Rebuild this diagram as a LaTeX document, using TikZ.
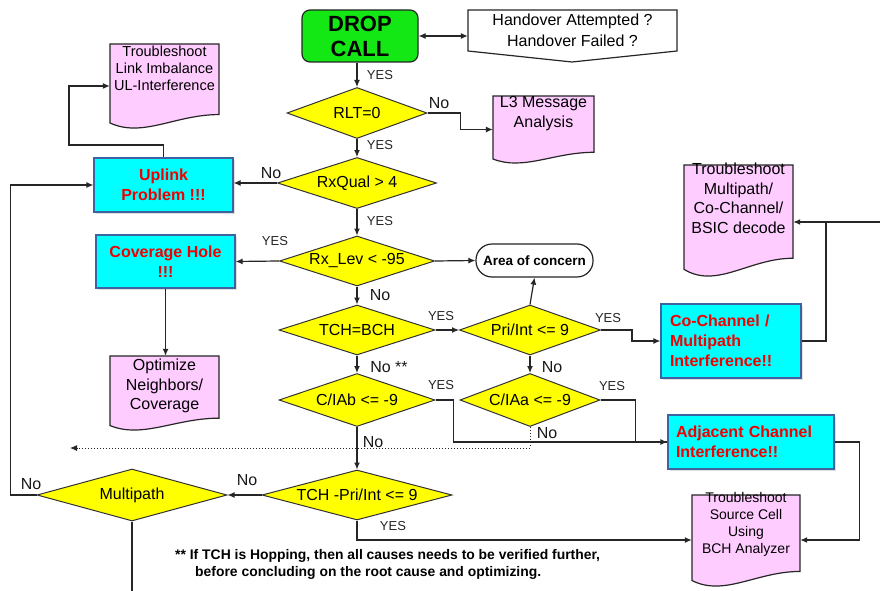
\documentclass[tikz,border=0pt]{standalone}
\usepackage{fontspec}
\setmainfont{Liberation Sans}
\usetikzlibrary{shapes.geometric,arrows.meta,shadows,calc}
\definecolor{dgreen}{RGB}{20,232,20}
\definecolor{dcyan}{RGB}{0,255,255}
\definecolor{dpink}{RGB}{255,204,255}
\definecolor{dyellow}{RGB}{255,255,0}
\definecolor{dred}{RGB}{240,0,0}
\definecolor{cborder}{RGB}{60,100,160}
\newcommand\docpath[4]{(#1,#2) -- (#3,#2) -- (#3,{#4-0.16*(#4-#2)}) .. controls ({#1+0.6*(#3-#1)},{#4-0.16*(#4-#2)}) and ({#1+0.3*(#3-#1)},{#4+0.12*(#4-#2)}) .. (#1,{#4-0.06*(#4-#2)}) -- cycle}
\begin{document}
\begin{tikzpicture}[x=1pt,y=-1pt,
  line/.style={draw=black!85, line width=1.2pt},
  arr/.style={line, -{Latex[length=7pt,width=6pt]}},
  dblarr/.style={line, {Latex[length=7pt,width=6pt]}-{Latex[length=7pt,width=6pt]}},
  diam/.style={diamond, shape aspect=4, draw=black!80, line width=1pt, fill=dyellow, inner sep=0pt, font=\fontsize{16}{19}\selectfont},
  startbox/.style={rectangle, rounded corners=8pt, draw=black!85, line width=1.2pt, fill=dgreen, font=\bfseries\fontsize{22}{25}\selectfont, align=center},
  probbox/.style={rectangle, draw=cborder, line width=1.2pt, fill=dcyan, text=dred, font=\bfseries\fontsize{16}{20}\selectfont, align=center, drop shadow={opacity=0.25, shadow xshift=2pt, shadow yshift=-2pt}},
  docout/.style={draw=black!85, line width=1.2pt, fill=dpink},
  docarea/.style={rectangle, draw=none, inner sep=0pt},
  doctext/.style={anchor=north, align=center, inner sep=0pt},
  termbox/.style={rectangle, rounded corners=16pt, draw=black!85, line width=1.2pt, fill=white, font=\bfseries\fontsize{13.5}{16}\selectfont},
  yeslbl/.style={inner sep=0pt, text=black!85, font=\fontsize{13}{15}\selectfont},
  nolbl/.style={inner sep=0pt, text=black!90, font=\fontsize{16}{18}\selectfont},
  fnote/.style={anchor=west, inner sep=0pt, font=\bfseries\fontsize{13.9}{16}\selectfont}
]
\useasboundingbox[fill=white] (0,0) rectangle (880,591);

% ---- background shapes (documents, off-page)
\path[docout] \docpath{110}{44}{219}{128};
\path[docout] \docpath{493}{96}{594}{163};
\path[docout] \docpath{110}{356}{219}{430};
\path[docout] \docpath{684}{165}{793}{276};
\path[docout] \docpath{692}{495}{800}{586};
\path[draw=black!85, line width=1.2pt, fill=white] (468,10) -- (677,10) -- (677,51) -- (572,62) -- (468,51) -- cycle;

% ---- nodes
\node[startbox, minimum width=116pt, minimum height=52pt] (drop) at (360,36) {DROP\\CALL};
\node[rectangle, inner sep=0pt, minimum width=209pt, minimum height=41pt, align=center, font=\fontsize{16}{20.5}\selectfont] (ho) at (572.5,30.5) {Handover Attempted ?\\Handover Failed ?};

\node[diam, minimum width=140pt, minimum height=51pt] (rlt) at (357,113) {RLT=0};
\node[diam, minimum width=159pt, minimum height=51pt] (rxq) at (357,183) {RxQual > 4};
\node[diam, minimum width=155pt, minimum height=50pt] (rxl) at (357,261) {Rx\_Lev < -95};
\node[diam, minimum width=156pt, minimum height=50pt] (tch) at (357,330) {TCH=BCH};
\node[diam, minimum width=141pt, minimum height=50pt] (pri) at (530,330) {Pri/Int <= 9};
\node[diam, minimum width=156pt, minimum height=53pt] (ciab) at (357,400) {C/IAb <= -9};
\node[diam, minimum width=140pt, minimum height=53pt] (ciaa) at (530,400) {C/IAa <= -9};
\node[diam, minimum width=190pt, minimum height=50pt] (tpi) at (357,495) {TCH -Pri/Int <= 9};
\node[diam, minimum width=190pt, minimum height=52pt] (mp) at (132,495) {Multipath};

\node[probbox, minimum width=139pt, minimum height=54pt] (up) at (163.5,185) {Uplink\\Problem !!!};
\node[probbox, minimum width=139pt, minimum height=53pt] (cov) at (165.5,261.5) {Coverage Hole\\!!!};
\node[probbox, minimum width=140pt, minimum height=74pt, text width=122pt, inner xsep=9pt, align=left] (cc) at (731,341) {Co-Channel /\\Multipath\\Interference!!};
\node[probbox, minimum width=166pt, minimum height=54pt, text width=150pt, inner xsep=8pt, align=left] (adj) at (751,442) {Adjacent Channel\\Interference!!};

\node[termbox, minimum width=117pt, minimum height=33pt] (aoc) at (534.5,260.5) {Area of concern};

% document areas and texts
\node[docarea, minimum width=109pt, minimum height=84pt] (tli) at (164.5,86) {};
\node[doctext, font=\fontsize{14.5}{17}\selectfont] (tlit) at (164.5,46) {Troubleshoot\\Link Imbalance\\UL-Interference};
\node[docarea, minimum width=101pt, minimum height=67pt] (l3) at (543.5,129.5) {};
\node[doctext, font=\fontsize{16}{20}\selectfont] (l3t) at (543.5,96) {L3 Message\\Analysis};
\node[docarea, minimum width=109pt, minimum height=74pt] (opt) at (164.5,393) {};
\node[doctext, font=\fontsize{16}{19.5}\selectfont] (optt) at (164.5,359) {Optimize\\Neighbors/\\Coverage};
\node[docarea, minimum width=109pt, minimum height=110pt] (tmp) at (738.5,220) {};
\node[doctext, font=\fontsize{16}{19.5}\selectfont] (tmpt) at (738.5,163) {Troubleshoot\\Multipath/\\Co-Channel/\\BSIC decode};
\node[docarea, minimum width=108pt, minimum height=90pt] (src) at (746,540) {};
\node[doctext, font=\fontsize{14}{17}\selectfont] (srct) at (746,492) {Troubleshoot\\Source Cell\\Using\\BCH Analyzer};

% ---- coordinates
\coordinate (c1) at (69,145);
\coordinate (jr) at (826,222);
\coordinate (redge) at (880,222);
\coordinate (dl) at (70,448);
\coordinate (bot) at (132,591);

% ---- connectors
\draw[dblarr] (drop.east) -- (ho.west |- drop.east);
\draw[arr] (drop.south -| rlt.north) -- (rlt.north);
\draw[arr] (rlt.east) -- ++(33,0) |- (l3.west);
\draw[arr] (rlt.south) -- (rxq.north);
\draw[arr] (rxq.west) -- (up.east |- rxq.west);
\draw[arr] (up.north) |- (c1) |- (tli.west);
\draw[arr] (rxq.south) -- (rxl.north);
\draw[arr] (rxl.west) -- (cov.east);
\draw[arr] (cov.south) -- (cov.south |- opt.north);
\draw[arr] (rxl.east) -- (aoc.west);
\draw[arr] (rxl.south) -- (tch.north);
\draw[arr] (tch.east) -- (pri.west);
\draw[arr] (pri.north) -- (aoc.south);
\draw[arr] (pri.east) -- ++(31,0) |- (cc.west);
\draw[line] (cc.east) -| (jr);
\draw[arr] (redge) -- (tmp.east |- redge);
\draw[arr] (tch.south) -- (ciab.north);
\draw[arr] (pri.south) -- (ciaa.north);
\draw[arr] (ciab.east) -- ++(18,0) |- (adj.west);
\draw[line] (ciaa.east) -- ++(35,0) |- (adj.west);
\draw[black!85, line width=1pt, dotted, -{Latex[length=7pt,width=6pt]}] (ciaa.south) |- (dl);
\draw[arr] (ciab.south) -- (tpi.north);
\draw[arr] (tpi.west) -- (mp.east);
\draw[arr] (mp.west) -- ++(-26,0) |- (up.west);
\draw[line] (mp.south) -- (bot);
\draw[arr] (tpi.south) |- (src.west);
\draw[arr] (adj.east) -- ++(25,0) |- (src.east);

% ---- labels
\node[yeslbl] (y1) at (380,75) {YES};
\node[nolbl] (n1) at (439,103) {No};
\node[yeslbl] (y2) at (380,145) {YES};
\node[nolbl] (n2) at (271,173) {No};
\node[yeslbl] (y3) at (380,221) {YES};
\node[yeslbl] (y4) at (275,241) {YES};
\node[nolbl] (n3) at (380,295) {No};
\node[yeslbl] (y5) at (441,316) {YES};
\node[yeslbl] (y6) at (608,318) {YES};
\node[nolbl] (n4) at (389,367) {No **};
\node[nolbl] (n5) at (552,367) {No};
\node[yeslbl] (y7) at (441,385) {YES};
\node[yeslbl] (y8) at (612,386) {YES};
\node[nolbl] (n6) at (547,433) {No};
\node[nolbl] (n7) at (373,442) {No};
\node[nolbl] (n8) at (247,480) {No};
\node[nolbl] (n9) at (31,484) {No};
\node[yeslbl] (y9) at (393,526) {YES};

\node[fnote] (fn1) at (175,556) {** If TCH is Hopping, then all causes needs to be verified further,};
\node[fnote] (fn2) at (195,573) {before concluding on the root cause and optimizing.};
\end{tikzpicture}
\end{document}
